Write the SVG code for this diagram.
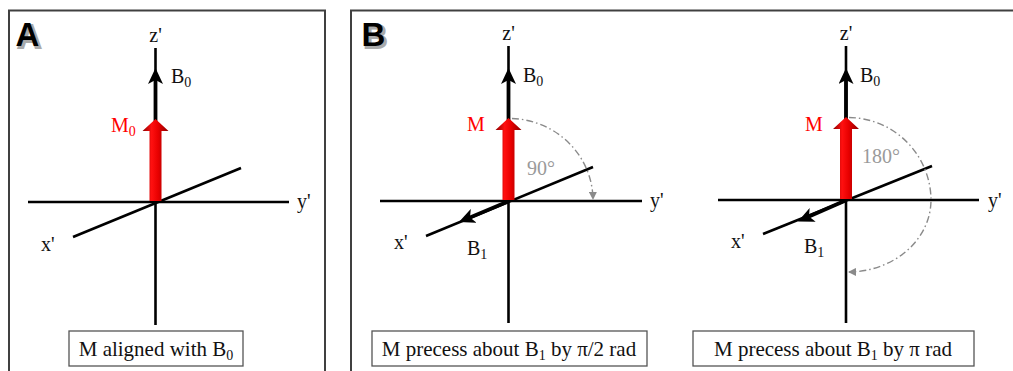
<svg xmlns="http://www.w3.org/2000/svg" width="1013" height="371" viewBox="0 0 1013 371">
<style>
.panel{fill:none;stroke:#404040;stroke-width:2}
.axis{stroke:#000;stroke-width:2.6;fill:none}
.vec{stroke:#000;stroke-width:3.8;fill:none}
.arc{stroke:#8a8a8a;stroke-width:1.4;fill:none;stroke-dasharray:7 3 1.5 3}
.cap{fill:#fff;stroke:#555;stroke-width:1.3}
.t{font-family:"Liberation Serif","Times New Roman",serif;font-size:20px;fill:#111}
.ct{font-family:"Liberation Serif","Times New Roman",serif;font-size:21px;fill:#111;text-anchor:middle}
.red{fill:#ff0000}
.deg{fill:#9a9a9a}
.sub{font-size:14px}
.letter{font-family:"Liberation Sans",Arial,sans-serif;font-weight:bold;font-size:33px}
.shadow{fill:#aaa;stroke:#aaa;stroke-width:2}
</style>
<defs>
<linearGradient id="rg" x1="0" y1="0" x2="1" y2="0">
<stop offset="0" stop-color="#8e0000"/>
<stop offset="0.35" stop-color="#ff1010"/>
<stop offset="0.6" stop-color="#e80000"/>
<stop offset="1" stop-color="#8e0000"/>
</linearGradient>
<marker id="ah" viewBox="0 0 16 15" markerWidth="16" markerHeight="15" refX="4" refY="7.5" orient="auto" markerUnits="userSpaceOnUse">
<path d="M0,0 L16,7.5 L0,15 L4,7.5 z" fill="#000"/>
</marker>
<marker id="ga" viewBox="0 0 8 8" markerWidth="8" markerHeight="8" refX="7" refY="4" orient="auto" markerUnits="userSpaceOnUse">
<path d="M0,0 L8,4 L0,8 z" fill="#8a8a8a"/>
</marker>
<symbol id="marrow" overflow="visible">
<path d="M-6,0 L-6,-70 L-13,-70 L0,-82 L13,-70 L6,-70 L6,0 z" fill="url(#rg)"/>
</symbol>
</defs>

<g id="panel-frames">
<rect class="panel" x="9" y="10.5" width="316" height="380"/>
<rect class="panel" x="351" y="10.5" width="700" height="380"/>
</g>

<g id="label-A">
<text class="letter shadow" x="17.5" y="48">A</text>
<text class="letter" x="15.5" y="46" fill="#000">A</text>
</g>
<g id="label-B">
<text class="letter shadow" x="363.5" y="48">B</text>
<text class="letter" x="361.5" y="46" fill="#000">B</text>
</g>

<g id="connectors">
<line class="axis" x1="155.5" y1="48" x2="155.5" y2="325"/>
<line class="axis" x1="28" y1="202" x2="289" y2="202"/>
<line class="axis" x1="73" y1="237" x2="241" y2="168"/>
<line class="vec" x1="155.5" y1="200" x2="155.5" y2="80" marker-end="url(#ah)"/>
<line class="axis" x1="508.5" y1="46" x2="508.5" y2="323"/>
<line class="axis" x1="380" y1="201" x2="642" y2="201"/>
<line class="axis" x1="426" y1="236" x2="593" y2="167"/>
<line class="vec" x1="508.5" y1="199" x2="508.5" y2="80" marker-end="url(#ah)"/>
<line class="vec" x1="508" y1="201.5" x2="470" y2="217.4" stroke-width="4.4" marker-end="url(#ah)"/>
<path class="arc" d="M512,118.5 A84,82 0 0 1 593,199" marker-end="url(#ga)"/>
<line class="axis" x1="846" y1="46" x2="846" y2="323"/>
<line class="axis" x1="718" y1="200" x2="979" y2="200"/>
<line class="axis" x1="763" y1="234" x2="932" y2="166"/>
<line class="vec" x1="846" y1="198" x2="846" y2="80" marker-end="url(#ah)"/>
<line class="vec" x1="845.5" y1="200.5" x2="809" y2="216.6" stroke-width="4.4" marker-end="url(#ah)"/>
<path class="arc" d="M849,117.5 A83,83 0 0 1 931,200 A83,72 0 0 1 849,272" marker-end="url(#ga)"/>
</g>

<g id="node-A">
<use href="#marrow" x="155.5" y="201"/>
<text class="t" x="155.5" y="42" text-anchor="middle" font-size="18">z'</text>
<text class="t" x="171" y="83">B<tspan class="sub" dy="4">0</tspan></text>
<text class="t red" x="111" y="132">M<tspan class="sub" dy="4">0</tspan></text>
<text class="t" x="297" y="208">y'</text>
<text class="t" x="41" y="251">x'</text>
<rect class="cap" x="69" y="331" width="174" height="35"/>
<text class="ct" x="156" y="356">M aligned with B<tspan class="sub" dy="4">0</tspan></text>
</g>

<g id="node-B1">
<use href="#marrow" x="508.5" y="200"/>
<text class="t" x="508.5" y="40" text-anchor="middle" font-size="18">z'</text>
<text class="t" x="523" y="82">B<tspan class="sub" dy="4">0</tspan></text>
<text class="t red" x="467" y="131">M</text>
<text class="t deg" x="527" y="175">90°</text>
<text class="t" x="650" y="207">y'</text>
<text class="t" x="394" y="249">x'</text>
<text class="t" x="467" y="255">B<tspan class="sub" dy="4">1</tspan></text>
<rect class="cap" x="372" y="331" width="275" height="35"/>
<text class="ct" x="509" y="356">M precess about B<tspan class="sub" dy="4">1</tspan><tspan dy="-4"> by π/2 rad</tspan></text>
</g>

<g id="node-B2">
<use href="#marrow" x="846" y="199"/>
<text class="t" x="846" y="40" text-anchor="middle" font-size="18">z'</text>
<text class="t" x="860" y="82">B<tspan class="sub" dy="4">0</tspan></text>
<text class="t red" x="805" y="131">M</text>
<text class="t deg" x="862" y="163">180°</text>
<text class="t" x="988" y="207">y'</text>
<text class="t" x="731" y="248">x'</text>
<text class="t" x="804" y="253">B<tspan class="sub" dy="4">1</tspan></text>
<rect class="cap" x="693" y="331" width="281" height="35"/>
<text class="ct" x="833" y="356">M precess about B<tspan class="sub" dy="4">1</tspan><tspan dy="-4"> by π rad</tspan></text>
</g>
</svg>
